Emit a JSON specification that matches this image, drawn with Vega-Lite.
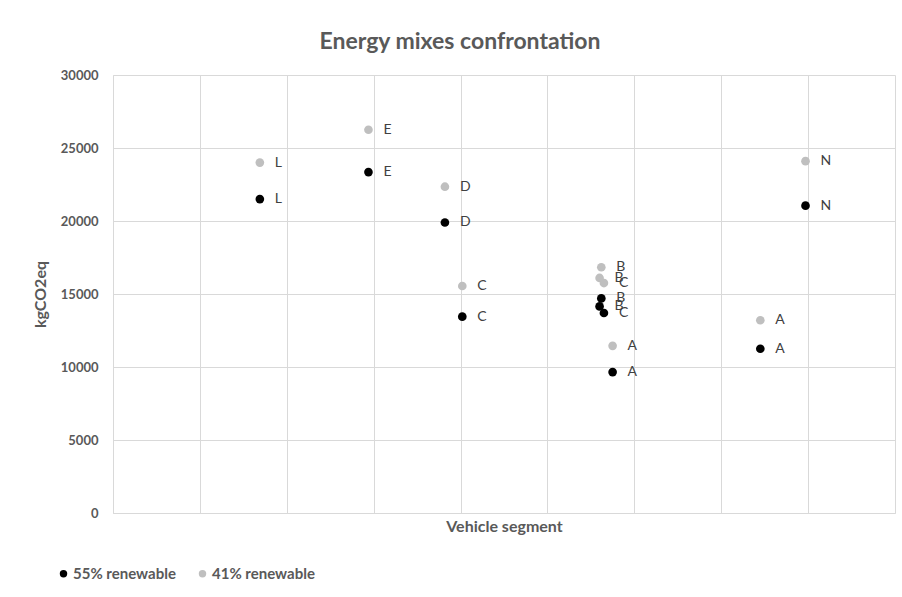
{
  "$schema": "https://vega.github.io/schema/vega-lite/v6.json",
  "width": 782,
  "height": 438,
  "autosize": {"type": "none"},
  "padding": {"left": 113, "top": 75, "right": 7, "bottom": 84},
  "background": "white",
  "config": {"font": "Lato", "view": {"stroke": null}},
  "title": {
    "text": "Energy mixes confrontation",
    "font": "Lato",
    "fontSize": 23,
    "fontWeight": "bold",
    "color": "#595959",
    "anchor": "middle",
    "frame": "group",
    "dx": -44,
    "offset": 15
  },
  "data": {
    "values": [
      {"segment": "L", "position": 1.69, "mix": "55% renewable", "kgCO2eq": 21500},
      {"segment": "E", "position": 2.94, "mix": "55% renewable", "kgCO2eq": 23350},
      {"segment": "D", "position": 3.82, "mix": "55% renewable", "kgCO2eq": 19900},
      {"segment": "C", "position": 4.02, "mix": "55% renewable", "kgCO2eq": 13450},
      {"segment": "B", "position": 5.62, "mix": "55% renewable", "kgCO2eq": 14700},
      {"segment": "B", "position": 5.6, "mix": "55% renewable", "kgCO2eq": 14150},
      {"segment": "C", "position": 5.65, "mix": "55% renewable", "kgCO2eq": 13700},
      {"segment": "A", "position": 5.75, "mix": "55% renewable", "kgCO2eq": 9650},
      {"segment": "A", "position": 7.45, "mix": "55% renewable", "kgCO2eq": 11250},
      {"segment": "N", "position": 7.97, "mix": "55% renewable", "kgCO2eq": 21050},
      {"segment": "L", "position": 1.69, "mix": "41% renewable", "kgCO2eq": 24000},
      {"segment": "E", "position": 2.94, "mix": "41% renewable", "kgCO2eq": 26250},
      {"segment": "D", "position": 3.82, "mix": "41% renewable", "kgCO2eq": 22350},
      {"segment": "C", "position": 4.02, "mix": "41% renewable", "kgCO2eq": 15550},
      {"segment": "B", "position": 5.62, "mix": "41% renewable", "kgCO2eq": 16830},
      {"segment": "B", "position": 5.6, "mix": "41% renewable", "kgCO2eq": 16100},
      {"segment": "C", "position": 5.65, "mix": "41% renewable", "kgCO2eq": 15750},
      {"segment": "A", "position": 5.75, "mix": "41% renewable", "kgCO2eq": 11450},
      {"segment": "A", "position": 7.45, "mix": "41% renewable", "kgCO2eq": 13200},
      {"segment": "N", "position": 7.97, "mix": "41% renewable", "kgCO2eq": 24100}
    ]
  },
  "encoding": {
    "x": {
      "field": "position",
      "type": "quantitative",
      "scale": {"domain": [0, 9], "nice": false, "zero": false},
      "axis": {
        "values": [0, 1, 2, 3, 4, 5, 6, 7, 8, 9],
        "labels": false,
        "ticks": false,
        "grid": true,
        "gridColor": "#d9d9d9",
        "gridWidth": 1,
        "domainColor": "#d9d9d9",
        "domainWidth": 1,
        "title": "Vehicle segment",
        "titleFont": "Lato",
        "titleFontSize": 16,
        "titleFontWeight": "bold",
        "titleColor": "#595959",
        "titlePadding": 5
      }
    },
    "y": {
      "field": "kgCO2eq",
      "type": "quantitative",
      "scale": {"domain": [0, 30000], "nice": false},
      "axis": {
        "values": [0, 5000, 10000, 15000, 20000, 25000, 30000],
        "format": "d",
        "ticks": false,
        "labelPadding": 15,
        "labelFont": "Lato",
        "labelFontSize": 13,
        "labelFontWeight": "bold",
        "labelColor": "#595959",
        "grid": true,
        "gridColor": "#d9d9d9",
        "gridWidth": 1,
        "domainColor": "#d9d9d9",
        "domainWidth": 1,
        "title": "kgCO2eq",
        "titleFont": "Lato",
        "titleFontSize": 16,
        "titleFontWeight": "bold",
        "titleColor": "#595959",
        "titlePadding": 12
      }
    }
  },
  "layer": [
    {
      "mark": {"type": "circle", "size": 75, "opacity": 1},
      "encoding": {
        "color": {
          "field": "mix",
          "type": "nominal",
          "scale": {"domain": ["55% renewable", "41% renewable"], "range": ["#000000", "#bfbfbf"]},
          "legend": {
            "title": null,
            "orient": "none",
            "direction": "horizontal",
            "legendX": -57,
            "legendY": 491,
            "symbolType": "circle",
            "symbolSize": 55,
            "symbolStrokeWidth": 0,
            "labelFont": "Lato",
            "labelFontSize": 15,
            "labelFontWeight": "bold",
            "labelColor": "#595959",
            "labelOffset": 2,
            "columnPadding": 19
          }
        }
      }
    },
    {
      "mark": {"type": "text", "align": "left", "baseline": "middle", "dx": 15, "font": "Lato", "fontSize": 14, "color": "#404040"},
      "encoding": {"text": {"field": "segment", "type": "nominal"}}
    }
  ]
}
